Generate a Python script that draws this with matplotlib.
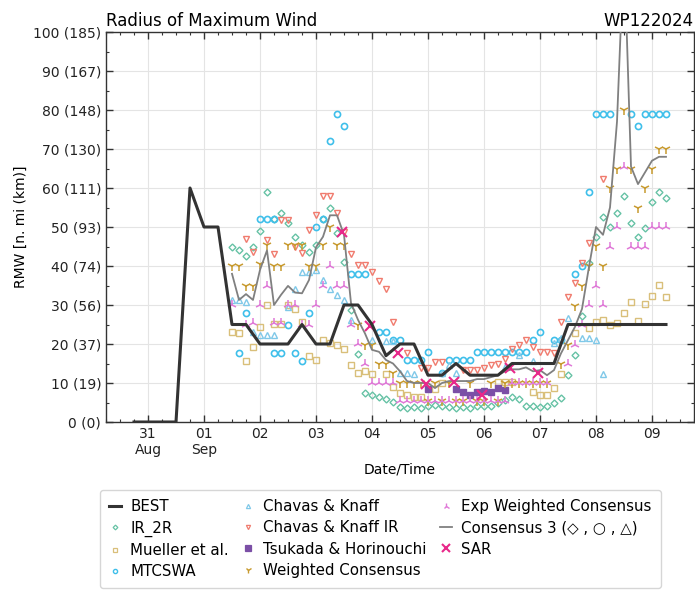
import matplotlib
matplotlib.use("Agg")
import matplotlib.pyplot as plt
import numpy as np
from matplotlib.lines import Line2D

# ---- data (hours since 31 Aug 00Z) ----
best_h = [-6, 0, 6, 12, 18, 24, 30, 36, 42, 48, 54, 60, 66, 72, 78, 84, 90, 96, 102, 108,
          114, 120, 126, 132, 138, 144, 150, 156, 162, 168, 174, 180, 186, 192, 198, 204,
          210, 216, 222]
best_v = [0, 0, 0, 0, 60, 50, 50, 25, 25, 20, 20, 20, 25, 20, 20, 30, 30, 25, 17, 20,
          20, 12, 12, 15, 12, 12, 12, 15, 15, 15, 15, 25, 25, 25, 25, 25, 25, 25, 25]

cons3_h = list(range(36, 225, 3))
cons3_v = [38, 31.3, 32.8, 31.3, 39, 44, 30, 32.6, 34.9, 33.2, 33, 36.4, 44.8, 47.5, 53, 53,
           48, 30.5, 26.2, 22.7, 18.5, 18, 15.9, 15, 13, 10.5, 10, 10, 10, 8.7, 10, 10.5,
           10.5, 10.5, 10.5, 11, 11, 11.5, 12, 13, 13.5, 13.5, 14, 13, 13.3, 12, 13.3, 17.6,
           21, 24.4, 29, 39.8, 50, 48, 55, 77, 122, 65.5, 61, 64, 67, 68, 68]

ir2r_h = list(range(36, 225, 3))
ir2r_v = [45, 44, 42.5, 45, 49, 59, 52, 53.5, 51, 47.5, 45.5, 43.5, 45.5, 52, 55, 48.5, 41,
          28.7, 17.4, 7.4, 6.9, 6.3, 6, 5.2, 3.8, 3.5, 3.8, 3.5, 4, 4.3, 4.1, 3.8, 3.5, 3.8,
          3.5, 4, 4, 4.1, 4.8, 5.6, 6.3, 5.8, 4.1, 4, 3.8, 4, 4.8, 6.1, 12, 17.2, 27.2, 40.8,
          47.5, 52.6, 50, 53.5, 58, 51, 47.5, 49.7, 56.5, 59, 57.4]

mueller_h = [36, 39, 42, 45, 48, 51, 54, 57, 60, 63, 66, 69, 72, 75, 78, 81, 84, 87, 90, 93,
             96, 102, 105, 108, 111, 114, 117, 123, 126, 150, 153, 156, 165, 168, 171, 174,
             177, 183, 189, 192, 195, 198, 201, 204, 207, 210, 213, 216, 219, 222]
mueller_v = [23.2, 22.7, 15.7, 19.3, 24.4, 30, 25.1, 25.1, 30, 29, 25.7, 16.9, 16, 21, 20.2,
             19.7, 18.6, 14.6, 12.5, 13, 12.3, 12.3, 8.9, 7.4, 6.9, 6.5, 6.5, 8.4, 10.1,
             10.3, 10.3, 10.3, 7.8, 6.9, 6.9, 8.6, 12.3, 22.7, 24, 25.7, 26.2, 24.9, 25.3,
             28, 30.8, 25.9, 30.3, 32.4, 35.1, 32.1]

mtcswa_h = [39, 42, 48, 51, 54, 54, 57, 60, 63, 66, 69, 72, 75, 78, 81, 84, 87, 90, 93, 99,
            102, 105, 108, 111, 114, 117, 120, 126, 129, 132, 135, 138, 141, 144, 147, 150,
            153, 156, 159, 162, 165, 168, 174, 177, 183, 186, 189, 192, 195, 198, 207, 210,
            213, 216, 219, 222]
mtcswa_v = [17.8, 28, 52, 52, 52, 17.8, 17.8, 25, 17.8, 15.7, 28, 50, 52, 72, 79, 76, 38, 38,
            38, 23, 23, 21, 21, 16, 16, 16, 18, 12.6, 16, 16, 16, 16, 18, 18, 18, 18, 18, 18,
            18, 18, 21, 23, 21, 21, 38, 40, 59, 79, 79, 79, 79, 76, 79, 79, 79, 79]

ck_h = [36, 39, 42, 45, 48, 51, 54, 60, 63, 66, 69, 72, 75, 78, 81, 84, 87, 96, 102, 105,
        108, 111, 114, 126, 129, 132, 153, 159, 165, 174, 177, 180, 186, 189, 192, 195]
ck_v = [31.3, 31.3, 30.8, 23, 22.3, 22.3, 22.3, 29.6, 34, 38.5, 38.5, 39, 36.4, 34, 32.6,
        31.3, 26.2, 21, 20.8, 20.8, 12.6, 12.6, 12.3, 12.6, 14.6, 12.6, 14.2, 17.2, 15.7,
        20.3, 21.5, 26.6, 21.5, 21.5, 21, 12.3]

ckir_h = [42, 45, 51, 54, 57, 60, 63, 66, 69, 72, 75, 78, 81, 84, 87, 90, 93, 96, 99, 102,
          105, 111, 117, 120, 123, 126, 135, 138, 141, 144, 147, 150, 153, 156, 159, 162,
          165, 168, 171, 174, 177, 180, 183, 186, 189, 195]
ckir_v = [47, 43.6, 46.6, 43, 51.8, 51.8, 45, 43.3, 49.3, 53, 58, 58, 53.5, 48.8, 43.1, 40.2,
          40.2, 38.4, 36.1, 34, 25.7, 17.6, 13.8, 13.8, 15.3, 15.3, 13.3, 13.3, 13.3, 13.8,
          14.6, 15, 16.2, 18.7, 19.7, 20.9, 19.3, 18, 18, 17.6, 25.7, 32.1, 35.6, 40.7, 45.8,
          62.2]

tsukada_h = [120, 132, 135, 138, 141, 144, 147, 150, 153]
tsukada_v = [8.4, 8.4, 7.6, 7.0, 7.8, 7.9, 7.8, 8.8, 8.1]

wcons_h = [36, 39, 42, 45, 48, 51, 54, 57, 60, 63, 66, 69, 72, 75, 78, 81, 84, 90, 93, 96,
           99, 102, 105, 108, 111, 114, 117, 120, 123, 126, 129, 132, 135, 138, 141, 144,
           147, 150, 153, 156, 159, 162, 165, 168, 171, 177, 180, 183, 186, 189, 192, 195,
           198, 201, 204, 207, 210, 213, 216, 219, 222]
wcons_v = [40, 40, 35, 35, 40.5, 45.4, 40, 40, 45.4, 45.4, 45.4, 40, 40, 45.4, 50, 45.4, 45.4,
           24.9, 19.7, 19.7, 15, 15, 12.5, 10, 10, 10, 10, 5.5, 10, 5.5, 10, 5.5, 5.5, 10,
           5.5, 5.5, 10, 5.5, 10, 10, 10, 10, 10, 10, 10, 15, 19.7, 29.8, 35, 40, 45.2, 40,
           60, 65, 80, 65, 54.8, 60, 65, 70, 70]

ewcons_h = [36, 42, 45, 48, 51, 54, 57, 60, 63, 66, 69, 72, 75, 78, 81, 84, 87, 90, 93, 96,
            99, 102, 105, 108, 111, 114, 117, 120, 123, 126, 129, 132, 135, 138, 141, 144,
            147, 150, 153, 156, 159, 162, 165, 168, 171, 180, 183, 186, 189, 192, 195, 198,
            201, 204, 207, 210, 213, 216, 219, 222]
ewcons_v = [30, 25, 25.3, 30, 35, 25.3, 25.3, 30, 30, 25, 25, 30, 35, 40, 35, 35, 25, 20, 15,
            10, 10, 10, 10, 5.5, 5.5, 5.5, 5.5, 5.5, 5.5, 5.5, 5.5, 5.5, 5.5, 5.5, 5.5, 5.5,
            5.5, 5.5, 5.5, 10, 10, 10, 10, 10, 10, 15, 19.7, 25, 30, 35, 30, 45, 50, 65.5,
            45, 45, 45, 50, 50, 50]

sar_h = [83, 95, 107, 119, 131, 143, 155, 167]
sar_v = [48.8, 24.6, 17.8, 9.7, 10.3, 6.9, 13.8, 12.6]

yticks = [0, 10, 20, 30, 40, 50, 60, 70, 80, 90, 100]
yticklabels = ["0 (0)", "10 (19)", "20 (37)", "30 (56)", "40 (74)", "50 (93)", "60 (111)",
               "70 (130)", "80 (148)", "90 (167)", "100 (185)"]
xticks_days = [0, 1, 2, 3, 4, 5, 6, 7, 8, 9]
xticklabels = ["31\nAug", "01\nSep", "02", "03", "04", "05", "06", "07", "08", "09"]

# ---- style ----
C_IR = "#66c2a5"
C_MU = "#d9bf7a"
C_MT = "#3fbfea"
C_CK = "#7fc8e8"
C_CKIR = "#f07b6e"
C_TS = "#7b4fa6"
C_WC = "#c89b30"
C_EW = "#e07ad8"
C_C3 = "#808080"
C_SAR = "#e8288a"

plt.rcParams['font.family'] = ['DejaVu Sans']
fig = plt.figure(figsize=(6.95, 5.91), dpi=100)
ax = fig.add_axes([106/695, 1-422/591, 588/695, 390/591])

def d(h):
    return np.asarray(h, dtype=float) / 24.0

ms = 4.4
mew = 1.0
ax.plot(d(ir2r_h), ir2r_v, ls='none', marker='D', ms=ms*0.8, mfc='none', mec=C_IR, mew=mew, zorder=3)
ax.plot(d(mueller_h), mueller_v, ls='none', marker='s', ms=ms*0.85, mfc='none', mec=C_MU, mew=mew, zorder=3)
ax.plot(d(mtcswa_h), mtcswa_v, ls='none', marker='o', ms=ms, mfc='none', mec=C_MT, mew=mew*1.2, zorder=3)
ax.plot(d(ck_h), ck_v, ls='none', marker='^', ms=ms, mfc='none', mec=C_CK, mew=mew, zorder=3)
ax.plot(d(ckir_h), ckir_v, ls='none', marker='v', ms=ms, mfc='none', mec=C_CKIR, mew=mew, zorder=3)
ax.plot(d(tsukada_h), tsukada_v, ls='none', marker='s', ms=ms*1.05, mfc=C_TS, mec=C_TS, mew=mew, zorder=3)
ax.plot(d(wcons_h), wcons_v, ls='none', marker='1', ms=ms*1.5, mec=C_WC, mew=1.1, zorder=3)
ax.plot(d(ewcons_h), ewcons_v, ls='none', marker='2', ms=ms*1.5, mec=C_EW, mew=1.1, zorder=3)
ax.plot(d(cons3_h), cons3_v, color=C_C3, lw=1.3, zorder=4)
ax.plot(d(sar_h), sar_v, ls='none', marker='x', ms=ms*1.5, mec=C_SAR, mew=1.5, zorder=5)
ax.plot(d(best_h), best_v, color='#333333', lw=2.2, zorder=6)

ax.set_xlim(-0.75, 9.75)
ax.set_ylim(0, 100)
ax.set_yticks(yticks)
ax.set_yticklabels(yticklabels, fontsize=10)
ax.set_yticks(np.arange(0, 101, 5), minor=True)
ax.set_xticks(xticks_days)
ax.set_xticklabels(xticklabels, fontsize=10)
ax.set_xticks(np.arange(-0.75, 9.76, 0.25), minor=True)
ax.tick_params(which='both', direction='in', top=True, right=True, colors='#333333',
               labelcolor='#222222')
ax.tick_params(which='major', length=5, width=1)
ax.tick_params(which='minor', length=2.5, width=0.8)
ax.grid(True, which='major', color='#e4e4e4', lw=0.8)
for s in ax.spines.values():
    s.set_color('#333333')
    s.set_linewidth(1.0)

ax.set_ylabel("RMW [n. mi (km)]", fontsize=10)
ax.set_xlabel("Date/Time", fontsize=10)
ax.set_title("Radius of Maximum Wind", loc='left', fontsize=12, pad=4)
ax.set_title("WP122024", loc='right', fontsize=12, pad=4)

lms = 3.0
handles = [
    Line2D([], [], color='#333333', lw=2.2),
    Line2D([], [], ls='none', marker='D', ms=lms*0.8, mfc='none', mec=C_IR, mew=0.9),
    Line2D([], [], ls='none', marker='s', ms=lms*0.85, mfc='none', mec=C_MU, mew=0.9),
    Line2D([], [], ls='none', marker='o', ms=lms, mfc='none', mec=C_MT, mew=1.0),
    Line2D([], [], ls='none', marker='^', ms=lms, mfc='none', mec=C_CK, mew=0.9),
    Line2D([], [], ls='none', marker='v', ms=lms, mfc='none', mec=C_CKIR, mew=0.9),
    Line2D([], [], ls='none', marker='s', ms=lms*1.3, mfc=C_TS, mec=C_TS, mew=0.9),
    Line2D([], [], ls='none', marker='1', ms=lms*1.5, mec=C_WC, mew=1.0),
    Line2D([], [], ls='none', marker='2', ms=lms*1.5, mec=C_EW, mew=1.0),
    Line2D([], [], color=C_C3, lw=1.3),
    Line2D([], [], ls='none', marker='x', ms=lms*1.8, mec=C_SAR, mew=1.5),
]
labels = ["BEST", "IR_2R", "Mueller et al.", "MTCSWA", "Chavas & Knaff", "Chavas & Knaff IR",
          "Tsukada & Horinouchi", "Weighted Consensus", "Exp Weighted Consensus",
          "Consensus 3 (\u25c7 , \u25cb , \u25b3)", "SAR"]
fig.legend(handles, labels, loc='upper center', bbox_to_anchor=(0.547, 1 - 490/591), ncol=3,
           fontsize=10.8, handlelength=0.85, handletextpad=0.6, columnspacing=0.85,
           labelspacing=0.42, frameon=True, edgecolor='#cccccc', fancybox=True,
           borderpad=0.6, borderaxespad=0.0)

fig.savefig("out.png", dpi=100)
